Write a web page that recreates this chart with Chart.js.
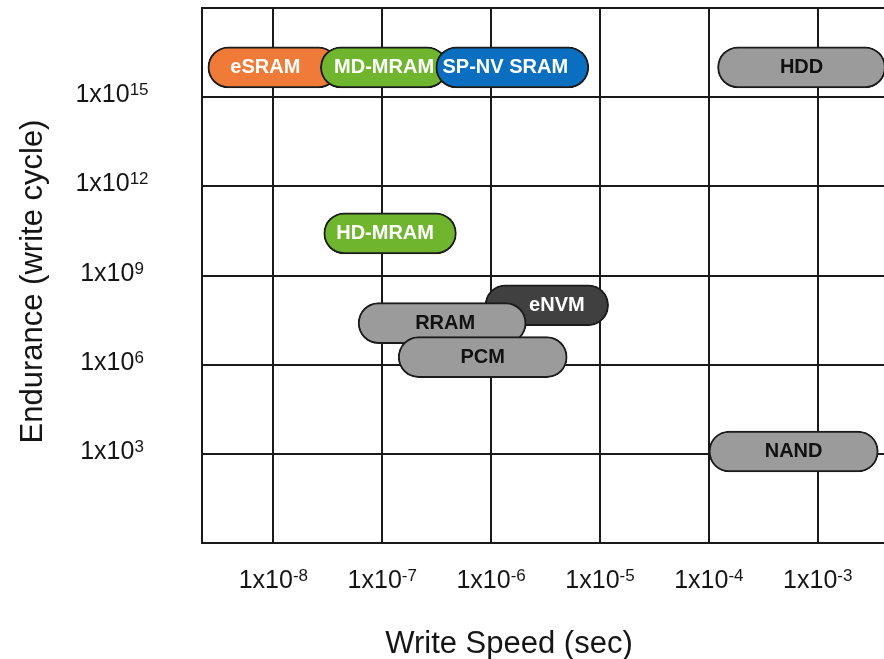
<!DOCTYPE html>
<html>
<head>
<meta charset="utf-8">
<script src="https://cdn.jsdelivr.net/npm/chart.js@4/dist/chart.umd.min.js"></script>
<style>
  html, body { margin: 0; padding: 0; background: #fff; overflow: hidden; }
  #wrap { width: 884px; height: 659px; position: relative; }
</style>
</head>
<body>
<div id="wrap"><canvas id="chart"></canvas></div>
<script>
// Memory technologies: write-speed span (seconds) and typical endurance (write cycles)
const technologies = ['eSRAM', 'MD-MRAM', 'SP-NV SRAM', 'HDD', 'HD-MRAM', 'eNVM', 'RRAM', 'PCM', 'NAND'];
const writeSpeedMin = [2.5e-9, 2.7e-8, 3.1e-7, 1.2e-4, 2.9e-8, 8.8e-7, 6.0e-8, 1.4e-7, 1.0e-4];
const writeSpeedMax = [4.0e-8, 4.0e-7, 7.9e-6, 4.2e-3, 4.8e-7, 1.2e-5, 2.1e-6, 5.0e-6, 3.6e-3];
const endurance     = [1e16,   1e16,   1e16,   1e16,   2.6e10, 1e8,    2.5e7,  1.8e6,  1.2e3];

// Axis ticks and their labels (mantissa + exponent)
const speedTicks = [1e-8, 1e-7, 1e-6, 1e-5, 1e-4, 1e-3];
const speedTickExponents = ['-8', '-7', '-6', '-5', '-4', '-3'];
const enduranceTicks = [1e3, 1e6, 1e9, 1e12, 1e15];
const enduranceTickExponents = ['3', '6', '9', '12', '15'];
const tickMantissa = '1x10';

// Axis bounds
const speedAxisMin = 2.21e-9;
const speedAxisMax = 4.06e-3;
const enduranceAxisMin = 1;
const enduranceAxisMax = 1e18;

// Styling
const FONT = "'Liberation Sans', Arial, Helvetica, sans-serif";
const INK = '#151515';
const fillByTech = {
  'eSRAM': '#F07A38', 'MD-MRAM': '#70B52E', 'SP-NV SRAM': '#0A6FC0', 'HDD': '#9B9B9B',
  'HD-MRAM': '#70B52E', 'eNVM': '#404040', 'RRAM': '#9B9B9B', 'PCM': '#9B9B9B', 'NAND': '#9B9B9B'
};
const textByTech = {
  'eSRAM': '#fff', 'MD-MRAM': '#fff', 'SP-NV SRAM': '#fff', 'HDD': '#111',
  'HD-MRAM': '#fff', 'eNVM': '#fff', 'RRAM': '#111', 'PCM': '#111', 'NAND': '#111'
};
// horizontal shift of a pill's caption (px), keeps it in the visible part
const labelNudge = { 'eSRAM': -8, 'SP-NV SRAM': -7, 'HD-MRAM': -5, 'eNVM': 10, 'RRAM': 3 };

// Captions inside each pill
const pillCaptions = {
  id: 'pillCaptions',
  afterDatasetsDraw(chart) {
    const ctx = chart.ctx;
    const meta = chart.getDatasetMeta(0);
    ctx.save();
    ctx.font = `bold 20px ${FONT}`;
    ctx.textAlign = 'center';
    ctx.textBaseline = 'middle';
    meta.data.forEach((bar, i) => {
      const name = technologies[i];
      const cx = (bar.x + bar.base) / 2 + (labelNudge[name] || 0);
      ctx.fillStyle = textByTech[name];
      ctx.fillText(name, cx, bar.y);
    });
    ctx.restore();
  }
};

// Tick labels with superscript exponents and the axis titles
function drawPower(ctx, exp, cx, baseline) {
  ctx.font = `25px ${FONT}`;
  const wb = ctx.measureText(tickMantissa).width;
  ctx.font = `17px ${FONT}`;
  const we = ctx.measureText(exp).width;
  const start = cx - (wb + we) / 2;
  ctx.textAlign = 'left';
  ctx.textBaseline = 'alphabetic';
  ctx.font = `25px ${FONT}`;
  ctx.fillText(tickMantissa, start, baseline);
  ctx.font = `17px ${FONT}`;
  ctx.fillText(exp, start + wb, baseline - 7);
}

const axisText = {
  id: 'axisText',
  afterDraw(chart) {
    const ctx = chart.ctx;
    const area = chart.chartArea;
    const xs = chart.scales.x, ys = chart.scales.y;
    ctx.save();
    ctx.fillStyle = INK;
    speedTicks.forEach((v, i) => {
      drawPower(ctx, speedTickExponents[i], xs.getPixelForValue(v), area.bottom + 45);
    });
    enduranceTicks.forEach((v, i) => {
      drawPower(ctx, enduranceTickExponents[i], 112, ys.getPixelForValue(v) + 5);
    });
    ctx.font = `31px ${FONT}`;
    ctx.textAlign = 'center';
    ctx.textBaseline = 'alphabetic';
    ctx.fillText('Write Speed (sec)', 509, 653);
    ctx.translate(42, 281.5);
    ctx.rotate(-Math.PI / 2);
    ctx.fillText('Endurance (write cycle)', 0, 0);
    ctx.restore();
  }
};

const gridStyle = { color: '#1a1a1a', lineWidth: 2, drawTicks: false };
const borderStyle = { color: '#1a1a1a', width: 2 };

new Chart(document.getElementById('chart'), {
  type: 'bar',
  data: {
    datasets: [{
      data: technologies.map((t, i) => ({ x: [writeSpeedMin[i], writeSpeedMax[i]], y: endurance[i] })),
      backgroundColor: technologies.map(t => fillByTech[t]),
      borderColor: '#1b1b1b',
      borderWidth: 2,
      borderRadius: 30,
      borderSkipped: false,
      barThickness: 41
    }]
  },
  options: {
    indexAxis: 'y',
    responsive: true,
    maintainAspectRatio: false,
    animation: false,
    events: [],
    layout: { padding: { left: 202, top: 8, right: 0, bottom: 116 } },
    plugins: { legend: { display: false }, tooltip: { enabled: false } },
    scales: {
      x: {
        type: 'logarithmic',
        min: speedAxisMin,
        max: speedAxisMax,
        afterBuildTicks: s => { s.ticks = speedTicks.map(v => ({ value: v })); },
        ticks: { display: false },
        grid: gridStyle,
        border: borderStyle
      },
      y: {
        type: 'logarithmic',
        min: enduranceAxisMin,
        max: enduranceAxisMax,
        offset: false,
        afterBuildTicks: s => {
          s.ticks = [enduranceAxisMin, ...enduranceTicks, enduranceAxisMax].map(v => ({ value: v }));
        },
        ticks: { display: false },
        grid: Object.assign({ offset: false }, gridStyle),
        border: borderStyle
      }
    }
  },
  plugins: [pillCaptions, axisText]
});
</script>
</body>
</html>
